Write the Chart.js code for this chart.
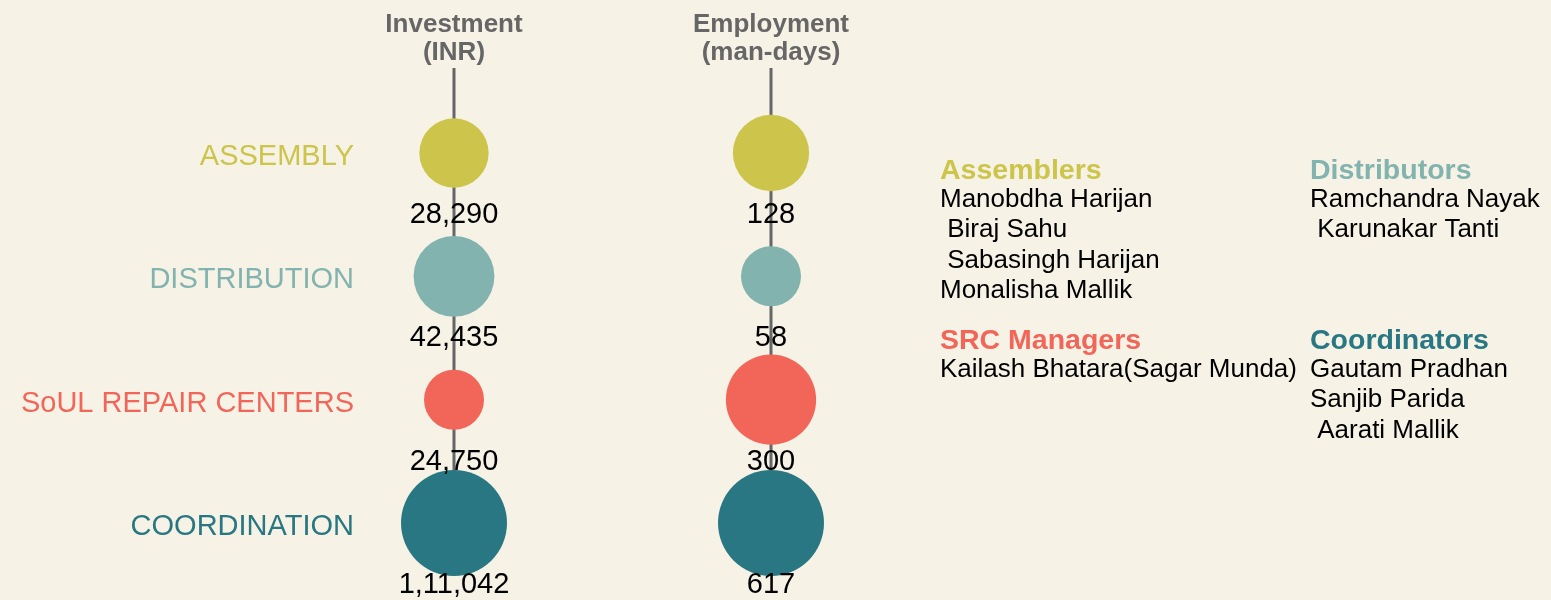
<!DOCTYPE html>
<html>
<head>
<meta charset="utf-8">
<script src="https://cdn.jsdelivr.net/npm/chart.js@4.4.1/dist/chart.umd.min.js"></script>
<style>
html,body{margin:0;padding:0;background:#F6F2E6;overflow:hidden}
canvas{display:block}
</style>
</head>
<body>
<canvas id="c" width="1551" height="600"></canvas>
<script>
/* data */
const categories=['ASSEMBLY','DISTRIBUTION','SoUL REPAIR CENTERS','COORDINATION'];
const investment=[28290,42435,24750,111042];
const employment=[128,58,300,617];
const measureTitles=[['Investment','(INR)'],['Employment','(man-days)']];
const rowColors=['#CCC44B','#82B3AE','#F2665A','#287782'];
const teamTitles=['Assemblers','Distributors','SRC Managers','Coordinators'];
const teamMembers=[
  ['Manobdha Harijan',' Biraj Sahu',' Sabasingh Harijan','Monalisha Mallik'],
  ['Ramchandra Nayak',' Karunakar Tanti'],
  ['Kailash Bhatara(Sagar Munda)'],
  ['Gautam Pradhan','Sanjib Parida',' Aarati Mallik']
];

const FONT='"Liberation Sans", Arial, sans-serif';

// Indian digit grouping: 1,11,042
function fmtIN(n){
  const s=String(Math.round(n));
  if(s.length<=3)return s;
  let last=s.slice(-3), rest=s.slice(0,-3);
  rest=rest.replace(/\B(?=(\d{2})+(?!\d))/g,',');
  return rest+','+last;
}

// bubble radius: sqrt of position inside the column's range
function sizer(vals){
  const mn=Math.min(...vals), mx=Math.max(...vals);
  return v=>30+23*Math.sqrt((v-mn)/(mx-mn));
}

function column(vals,col){
  const r=sizer(vals);
  return {
    data:vals.map((v,i)=>({x:col,y:i,r:r(v),v:v})),
    backgroundColor:rowColors,
    borderWidth:0,
    hoverBorderWidth:0,
    clip:false
  };
}

const decor={
  id:'decor',
  beforeDatasetsDraw(chart){
    const {ctx,scales:{x,y}}=chart;
    ctx.save();
    ctx.strokeStyle='#666666';
    ctx.lineWidth=3;
    [0,1].forEach(c=>{
      const px=x.getPixelForValue(c);
      ctx.beginPath();
      ctx.moveTo(px,68);
      ctx.lineTo(px,y.getPixelForValue(categories.length-1));
      ctx.stroke();
    });
    ctx.restore();
  },
  afterDatasetsDraw(chart){
    const {ctx,scales:{x,y}}=chart;
    ctx.save();
    ctx.textBaseline='middle';
    // column headers
    ctx.fillStyle='#666666';
    ctx.font='bold 26px '+FONT;
    ctx.textAlign='center';
    measureTitles.forEach((t,c)=>{
      const px=x.getPixelForValue(c);
      ctx.fillText(t[0],px,25);
      ctx.fillText(t[1],px,53);
    });
    // row labels
    ctx.font='29px '+FONT;
    ctx.textAlign='right';
    categories.forEach((cat,i)=>{
      ctx.fillStyle=rowColors[i];
      ctx.fillText(cat,354,y.getPixelForValue(i)+4);
    });
    // value labels under bubbles
    ctx.fillStyle='#000000';
    ctx.font='29px '+FONT;
    ctx.textAlign='center';
    [investment,employment].forEach((vals,c)=>{
      const px=x.getPixelForValue(c);
      vals.forEach((v,i)=>ctx.fillText(fmtIN(v),px,y.getPixelForValue(i)+62));
    });
    // team lists
    const spots=[[940,171],[1310,171],[940,341],[1310,341]];
    ctx.textAlign='left';
    teamTitles.forEach((t,k)=>{
      const [tx,ty]=spots[k];
      ctx.fillStyle=rowColors[k];
      ctx.font='bold 28.5px '+FONT;
      ctx.fillText(t,tx,ty);
      ctx.fillStyle='#000000';
      ctx.font='26px '+FONT;
      teamMembers[k].forEach((m,j)=>ctx.fillText(m,tx,ty+29+j*30.3));
    });
    ctx.restore();
  }
};

new Chart(document.getElementById('c'),{
  type:'bubble',
  data:{datasets:[column(investment,0),column(employment,1)]},
  plugins:[decor],
  options:{
    responsive:false,
    animation:false,
    events:[],
    layout:{padding:{left:454,right:780,top:153,bottom:77}},
    plugins:{legend:{display:false},tooltip:{enabled:false}},
    scales:{
      x:{type:'linear',min:0,max:1,display:false},
      y:{type:'linear',min:0,max:categories.length-1,reverse:true,display:false}
    }
  }
});
</script>
</body>
</html>
